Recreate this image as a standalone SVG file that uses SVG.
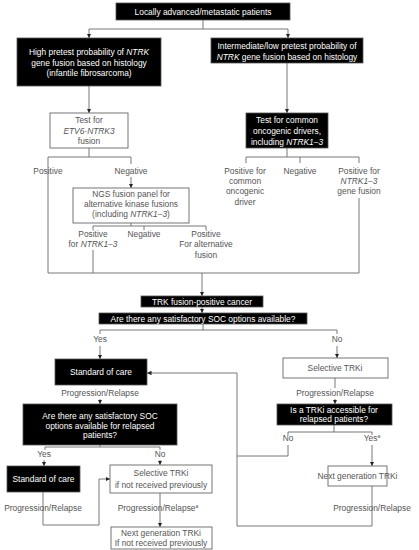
<svg xmlns="http://www.w3.org/2000/svg" width="419" height="550" viewBox="0 0 419 550">
<defs>
<marker id="ah" viewBox="0 0 6 6" refX="6" refY="3" markerWidth="4.5" markerHeight="4.5" markerUnits="userSpaceOnUse" orient="auto">
<path d="M0,0 L6,3 L0,6 Z" fill="#222"/>
</marker>
<style>
.b{fill:#000;stroke:#555;stroke-width:0.8}
.w{fill:#fff;stroke:#666;stroke-width:0.9}
.tb{font-family:"Liberation Sans",Arial,sans-serif;font-size:8.4px;fill:#fff;text-anchor:middle}
.tw{font-family:"Liberation Sans",Arial,sans-serif;font-size:8.4px;fill:#555;text-anchor:middle}
.l{fill:none;stroke:#6a6a6a;stroke-width:0.9}
.a{fill:none;stroke:#6a6a6a;stroke-width:0.9;marker-end:url(#ah)}
.i{font-style:italic}
.sup{font-size:5px}
</style>
</defs>
<rect width="419" height="550" fill="#fff"/>

<g id="connectors">
<path class="l" d="M203,20 V29 M89,29 H288"/>
<path class="a" d="M89,29 V38"/>
<path class="a" d="M288,29 V38"/>
<path class="a" d="M89,86 V113"/>
<path class="a" d="M287,63 V113"/>
<path class="l" d="M89,148 V157 M48,157 H131 M48,157 V273 M131,157 V164"/>
<path class="a" d="M131,177 V188"/>
<path class="l" d="M131,223 V226 M93,226 H206 M93,226 V230 M144,226 V230 M206,226 V230 M93,250 V273"/>
<path class="l" d="M287,148 V157 M246,157 H359 M246,157 V163 M300,157 V163 M359,157 V163 M359,198 V273"/>
<path class="l" d="M48,273 H359"/>
<path class="a" d="M202,273 V296"/>
<path class="a" d="M202,307 V313"/>
<path class="l" d="M203,324 V330 M100,330 H337 M100,330 V334 M337,330 V334"/>
<path class="a" d="M100,346 V359"/>
<path class="a" d="M337,346 V358"/>
<path class="a" d="M100,399 V404"/>
<path class="l" d="M335,378 V388"/>
<path class="a" d="M335,399 V404"/>
<path class="l" d="M334,425 V432 M288,432 H372 M288,432 V435 M372,432 V435"/>
<path class="l" d="M288,445 V456 H237"/>
<path class="a" d="M372,445 V466"/>
<path class="a" d="M372,486 V526 H237 V373 H147"/>
<path class="l" d="M100,445 V447 M45,447 H160 M45,447 V450 M160,447 V450"/>
<path class="a" d="M44,460 V466"/>
<path class="a" d="M160,460 V465"/>
<path class="a" d="M43,492 V525 H99 V479 H110"/>
<path class="a" d="M160,493 V527"/>
</g>

<g id="n-top">
<rect class="b" x="116" y="3" width="174" height="17"/>
<text class="tb" x="203" y="15">Locally advanced/metastatic patients</text>
</g>
<g id="n-high">
<rect class="b" x="17" y="38" width="144" height="48"/>
<text class="tb" x="89" y="55">High pretest probability of <tspan class="i">NTRK</tspan></text>
<text class="tb" x="89" y="66">gene fusion based on histology</text>
<text class="tb" x="89" y="76">(infantile fibrosarcoma)</text>
</g>
<g id="n-low">
<rect class="b" x="211" y="38" width="152" height="25"/>
<text class="tb" x="287" y="49">Intermediate/low pretest probability of</text>
<text class="tb" x="287" y="60"><tspan class="i">NTRK</tspan> gene fusion based on histology</text>
</g>
<g id="n-etv6">
<rect class="w" x="50" y="113" width="78" height="35"/>
<text class="tw" x="89" y="123">Test for</text>
<text class="tw i" x="89" y="134">ETV6-NTRK3</text>
<text class="tw" x="89" y="144">fusion</text>
</g>
<g id="n-common">
<rect class="b" x="246" y="113" width="82" height="35"/>
<text class="tb" x="287" y="123">Test for common</text>
<text class="tb" x="287" y="134">oncogenic drivers,</text>
<text class="tb" x="287" y="145">including <tspan class="i">NTRK1–3</tspan></text>
</g>
<g id="lbl-etv6">
<text class="tw" x="48" y="174">Positive</text>
<text class="tw" x="131" y="174">Negative</text>
</g>
<g id="n-ngs">
<rect class="w" x="73" y="188" width="116" height="35"/>
<text class="tw" x="131" y="197">NGS fusion panel for</text>
<text class="tw" x="131" y="207">alternative  kinase fusions</text>
<text class="tw" x="131" y="217">(including <tspan class="i">NTRK1–3</tspan>)</text>
</g>
<g id="lbl-ngs">
<text class="tw" x="93" y="237">Positive</text>
<text class="tw" x="93" y="247">for <tspan class="i">NTRK1–3</tspan></text>
<text class="tw" x="144" y="237">Negative</text>
<text class="tw" x="206" y="237">Positive</text>
<text class="tw" x="206" y="247">For alternative</text>
<text class="tw" x="206" y="258">fusion</text>
</g>
<g id="lbl-common">
<text class="tw" x="245" y="174">Positive for</text>
<text class="tw" x="245" y="184">common</text>
<text class="tw" x="245" y="194">oncogenic</text>
<text class="tw" x="245" y="205">driver</text>
<text class="tw" x="300" y="174">Negative</text>
<text class="tw" x="359" y="174">Positive for</text>
<text class="tw i" x="359" y="184">NTRK1–3</text>
<text class="tw" x="359" y="194">gene fusion</text>
</g>
<g id="n-trk">
<rect class="b" x="141" y="296" width="122" height="11"/>
<text class="tb" x="202" y="304.8">TRK fusion-positive cancer</text>
</g>
<g id="n-soc-q">
<rect class="b" x="99" y="313" width="208" height="11"/>
<text class="tb" x="203" y="321.8">Are there any satisfactory SOC options available?</text>
</g>
<g id="lbl-soc-q">
<text class="tw" x="100" y="342">Yes</text>
<text class="tw" x="337" y="342">No</text>
</g>
<g id="n-soc1">
<rect class="b" x="55" y="359" width="92" height="26"/>
<text class="tb" x="101" y="375">Standard of care</text>
</g>
<g id="n-sel1">
<rect class="w" x="283" y="358" width="105" height="20"/>
<text class="tw" x="335" y="371">Selective TRKi</text>
</g>
<g id="lbl-prog1">
<text class="tw" x="100" y="396">Progression/Relapse</text>
<text class="tw" x="335" y="396">Progression/Relapse</text>
</g>
<g id="n-soc-q2">
<rect class="b" x="23" y="404" width="154" height="41"/>
<text class="tb" x="100" y="419">Are there any satisfactory SOC</text>
<text class="tb" x="100" y="428.5">options available for relapsed</text>
<text class="tb" x="100" y="438">patients?</text>
</g>
<g id="n-trk-q">
<rect class="b" x="277" y="404" width="115" height="21"/>
<text class="tb" x="334" y="412.5">Is a TRKi accessible for</text>
<text class="tb" x="334" y="422">relapsed patients?</text>
</g>
<g id="lbl-trk-q">
<text class="tw" x="288" y="441">No</text>
<text class="tw" x="372" y="441">Yes<tspan class="sup" dy="-3">a</tspan></text>
</g>
<g id="n-next1">
<rect class="w" x="328" y="466" width="59" height="20"/>
<text class="tw" x="357.5" y="479">Next generation TRKi</text>
</g>
<text class="tw" x="372" y="511">Progression/Relapse</text>
<g id="lbl-soc-q2">
<text class="tw" x="44" y="457">Yes</text>
<text class="tw" x="160" y="457">No</text>
</g>
<g id="n-soc2">
<rect class="b" x="7" y="466" width="73" height="26"/>
<text class="tb" x="43.5" y="482">Standard of care</text>
</g>
<g id="n-sel2">
<rect class="w" x="110" y="465" width="102" height="28"/>
<text class="tw" x="161" y="476">Selective TRKi</text>
<text class="tw" x="161" y="488">if not received previously</text>
</g>
<g id="lbl-prog2">
<text class="tw" x="43" y="511">Progression/Relapse</text>
<text class="tw" x="158" y="511">Progression/Relapse<tspan class="sup" dy="-3">a</tspan></text>
</g>
<g id="n-next2">
<rect class="w" x="111" y="527" width="101" height="22"/>
<text class="tw" x="161" y="536">Next generation TRKi</text>
<text class="tw" x="161" y="546">If not received previously</text>
</g>
</svg>
